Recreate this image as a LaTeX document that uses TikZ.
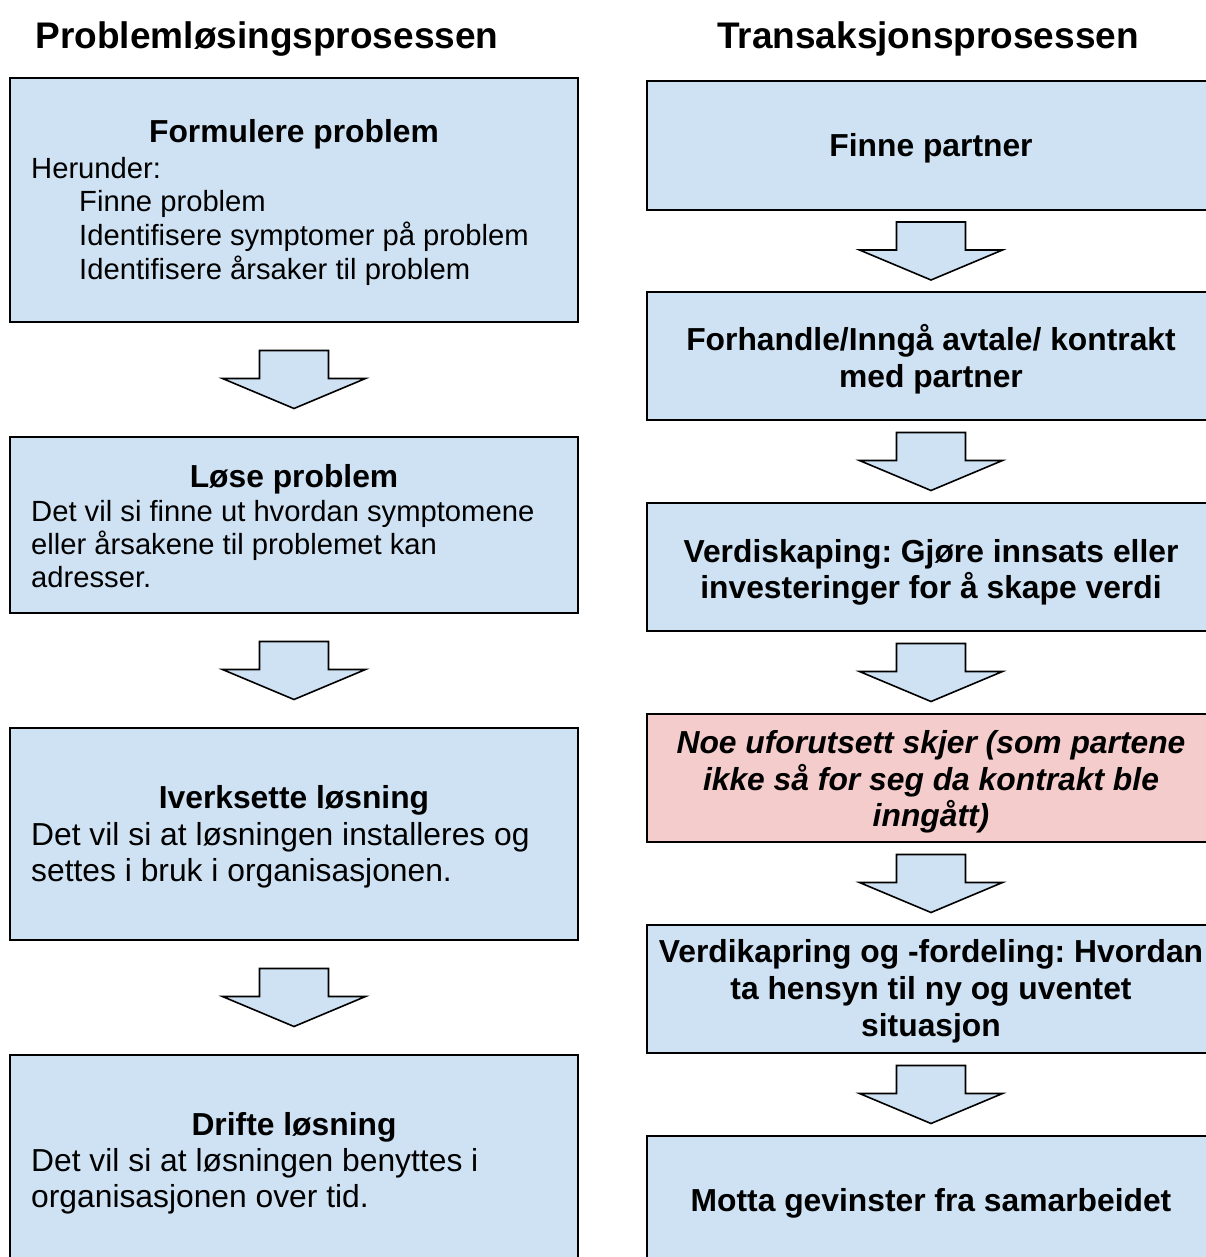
\documentclass[tikz,border=0pt]{standalone}
\usepackage{fontspec}
\setmainfont{Liberation Sans}
\usetikzlibrary{calc}
\definecolor{boxblue}{HTML}{CFE2F3}
\definecolor{boxpink}{HTML}{F4CCCC}
\frenchspacing

% Block arrow centred in the gap between two stacked boxes
\newcommand\flowarrow[3]{%
  \path ($(#1.south)!0.5!(#2.north)$) coordinate (#3);
  \draw[flow] ($(#3)+(-34.5,-29)$) -- ($(#3)+(34.5,-29)$) -- ($(#3)+(34.5,-1)$)
    -- ($(#3)+(71.5,-1)$) -- ($(#3)+(0,29)$) -- ($(#3)+(-71.5,-1)$)
    -- ($(#3)+(-34.5,-1)$) -- cycle;}

\begin{document}
\begin{tikzpicture}[x=1pt,y=-1pt,
  stage/.style={draw=black, line width=1.6pt, fill=boxblue, inner sep=0pt,
    outer sep=0pt, anchor=north west, minimum width=568pt},
  alert/.style={stage, fill=boxpink},
  flow/.style={draw=black, line width=1.6pt, fill=boxblue, line join=miter},
  title/.style={font=\fontsize{37}{44}\selectfont\bfseries, anchor=base, inner sep=0pt},
  head/.style={font=\fontsize{31.8}{36.5}\selectfont\bfseries, anchor=base, inner sep=0pt},
  headit/.style={head, font=\fontsize{31.8}{36.5}\selectfont\bfseries\itshape},
  small/.style={font=\fontsize{29.2}{33.5}\selectfont, anchor=base west, inner sep=0pt},
  large/.style={font=\fontsize{31.8}{36.5}\selectfont, anchor=base west, inner sep=0pt},
]
\useasboundingbox (0,0) rectangle (1206,1257);
\clip (0,0) rectangle (1206,1257);

% Column titles
\node[title] (tl) at (267,49) {Problemløsingsprosessen};
\node[title] (tr) at (928,49) {Transaksjonsprosessen};

% Left column: problem solving
\node[stage, minimum height=244pt] (l1) at (10,78) {};
\node[stage, minimum height=176pt] (l2) at (10,437) {};
\node[stage, minimum height=212pt] (l3) at (10,728) {};
\node[stage, minimum height=260pt] (l4) at (10,1055) {};

\flowarrow{l1}{l2}{al1}
\flowarrow{l2}{l3}{al2}
\flowarrow{l3}{l4}{al3}

\node[head] (l1h) at (294,143) {Formulere problem};
\node[small] (l1a) at (31,179) {Herunder:};
\node[small] (l1b) at (79,212) {Finne problem};
\node[small] (l1c) at (79,245) {Identifisere symptomer på problem};
\node[small] (l1d) at (79,279) {Identifisere årsaker til problem};

\node[head] (l2h) at (294,487) {Løse problem};
\node[small] (l2a) at (31,521) {Det vil si finne ut hvordan symptomene};
\node[small] (l2b) at (31,554) {eller årsakene til problemet kan};
\node[small] (l2c) at (31,587) {adresser.};

\node[head] (l3h) at (294,808) {Iverksette løsning};
\node[large] (l3a) at (31,845) {Det vil si at løsningen installeres og};
\node[large] (l3b) at (31,881) {settes i bruk i organisasjonen.};

\node[head] (l4h) at (294,1135) {Drifte løsning};
\node[large] (l4a) at (31,1171) {Det vil si at løsningen benyttes i};
\node[large] (l4b) at (31,1207) {organisasjonen over tid.};

% Right column: transaction
\node[stage, minimum height=129pt] (r1) at (647,81) {};
\node[stage, minimum height=128pt] (r2) at (647,292) {};
\node[stage, minimum height=128pt] (r3) at (647,503) {};
\node[alert, minimum height=128pt] (r4) at (647,714) {};
\node[stage, minimum height=128pt] (r5) at (647,925) {};
\node[stage, minimum height=200pt] (r6) at (647,1136) {};

\flowarrow{r1}{r2}{ar1}
\flowarrow{r2}{r3}{ar2}
\flowarrow{r3}{r4}{ar3}
\flowarrow{r4}{r5}{ar4}
\flowarrow{r5}{r6}{ar5}

\node[head] (r1a) at (931,157) {Finne partner};
\node[head] (r2a) at (931,350) {Forhandle/Inngå avtale/ kontrakt};
\node[head] (r2b) at (931,387) {med partner};
\node[head] (r3a) at (931,562) {Verdiskaping: Gjøre innsats eller};
\node[head] (r3b) at (931,598) {investeringer for å skape verdi};
\node[headit] (r4a) at (931,753) {Noe uforutsett skjer (som partene};
\node[headit] (r4b) at (931,790) {ikke så for seg da kontrakt ble};
\node[headit] (r4c) at (931,826) {inngått)};
\node[head] (r5a) at (931,962) {Verdikapring og -fordeling: Hvordan};
\node[head] (r5b) at (931,999) {ta hensyn til ny og uventet};
\node[head] (r5c) at (931,1036) {situasjon};
\node[head] (r6a) at (931,1211) {Motta gevinster fra samarbeidet};
\end{tikzpicture}
\end{document}
